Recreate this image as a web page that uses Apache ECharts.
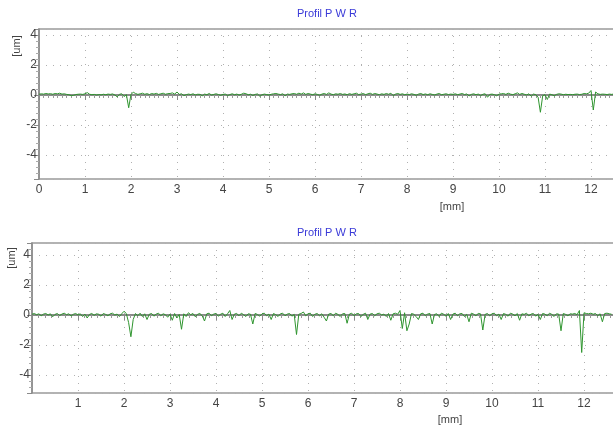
<!DOCTYPE html>
<html>
<head>
<meta charset="utf-8">
<title>Profil PWR</title>
<script src="https://cdn.jsdelivr.net/npm/echarts@6.0.0/dist/echarts.min.js"></script>
<style>
  html, body { margin: 0; padding: 0; background: #fff; }
  #chart { width: 613px; height: 427px; }
</style>
</head>
<body>
<div id="chart"></div>
<script>
// sampling step of the profile along x [mm]
var STEP = 0.05

var titleText = 'Profil P W R'
var xName = '[mm]'
var yName = '[um]'

// top profile, one row per mm (20 samples each)
var profileTop = [
  0.05,0.08,0.06,0.1,0.07,0.09,0.05,0.1,0.08,0.12,0.06,0.08,0.04,0.02,-0.04,-0.02,0.03,0.05,0.06,0.04,
  0.08,0.16,0.05,0.02,0.04,0.0,0.03,0.01,0.05,0.02,0.06,0.04,0.07,0.0,-0.12,0.05,0.08,-0.1,0.02,-0.85,
  0.05,0.18,0.1,0.04,0.08,0.12,0.05,0.09,0.03,0.1,0.06,0.11,0.04,0.08,0.12,0.05,0.09,0.1,0.14,0.06,
  0.2,0.04,0.08,-0.04,0.02,0.06,0.03,0.08,0.0,0.05,0.04,-0.05,0.06,0.02,0.1,0.0,0.04,0.08,0.03,-0.02,
  0.04,0.06,-0.04,0.03,0.08,0.02,0.06,0.0,0.05,0.12,0.08,0.02,0.05,-0.03,0.04,0.07,-0.08,0.02,0.06,0.03,
  0.0,0.05,0.08,0.1,0.06,0.03,0.08,-0.05,0.06,0.04,0.08,0.1,0.05,0.12,0.06,0.14,0.04,0.1,0.06,0.02,
  0.08,0.04,-0.02,0.06,0.1,0.04,0.14,0.06,0.02,0.08,0.05,0.1,0.04,0.07,0.02,0.09,0.04,0.08,0.12,0.03,
  0.06,0.1,0.02,0.08,0.12,0.04,0.1,0.06,0.02,0.08,0.04,0.1,0.05,0.12,-0.04,0.06,0.1,0.04,0.08,0.02,
  0.06,0.03,0.08,0.04,-0.02,0.06,0.1,0.03,0.07,0.02,0.08,0.04,0.0,0.06,0.1,0.02,0.05,0.08,0.03,0.06,
  0.04,0.08,0.02,0.06,0.1,0.03,0.07,-0.06,0.04,0.08,0.02,0.06,-0.04,0.05,0.08,-0.15,0.04,0.06,0.02,-0.05,
  0.06,0.08,0.1,0.04,0.12,0.06,0.02,0.08,0.14,0.04,0.1,0.05,0.0,0.08,-0.08,0.06,0.02,-0.15,-1.15,-0.05,
  0.02,-0.3,0.06,0.02,-0.05,0.04,0.08,0.06,0.02,0.05,0.03,0.04,0.02,0.05,0.06,0.03,0.05,0.1,0.08,0.12,
  0.3,-1.0,0.2,0.08,0.04,0.06,0.05,0.03,0.06,0.04,0.07,0.05,0.06
]

// bottom profile, same sampling
var profileBottom = [
  0.05,0.1,0.02,0.08,-0.05,0.06,0.1,0.0,0.08,-0.12,0.04,0.1,-0.04,0.06,0.12,0.02,0.08,-0.06,0.05,0.1,
  0.0,0.08,-0.1,0.06,-0.2,0.04,0.1,-0.02,0.08,0.05,-0.08,0.1,0.04,-0.05,0.08,0.12,0.0,0.06,-0.1,0.08,
  0.25,0.1,-0.5,-1.45,-0.3,0.1,-0.05,0.12,-0.1,0.08,-0.3,0.05,0.1,-0.08,0.06,0.12,-0.05,0.08,0.02,-0.15,
  0.06,-0.35,0.1,-0.2,0.04,-0.95,0.08,-0.1,0.15,0.02,0.1,-0.12,0.05,0.1,-0.05,-0.4,0.08,0.12,-0.05,0.06,
  0.1,-0.08,0.05,0.12,-0.1,0.08,0.3,-0.3,0.06,0.1,-0.05,0.12,0.02,-0.1,0.08,0.05,-0.6,0.1,0.04,-0.08,
  0.08,0.12,-0.05,0.06,-0.3,0.1,0.02,-0.1,0.08,0.12,-0.05,0.06,0.1,-0.08,0.04,-1.3,0.05,0.1,0.2,-0.05,
  0.08,0.12,-0.1,0.05,0.1,-0.05,0.08,-0.15,-0.4,0.06,0.1,-0.05,0.12,0.04,-0.1,0.08,0.1,-0.55,0.06,0.12,
  -0.05,0.08,0.1,-0.1,0.04,0.12,-0.3,0.06,0.1,-0.05,0.08,0.12,0.0,0.06,-0.1,0.1,-0.35,0.08,0.12,0.05,
  0.3,-0.9,0.15,-1.05,-0.6,0.1,0.05,-0.1,-0.3,0.08,0.12,-0.05,0.06,0.1,-0.6,0.04,0.08,-0.1,0.12,0.05,
  -0.08,0.1,-0.3,0.06,0.12,-0.05,0.08,0.1,-0.1,0.05,-0.45,0.12,0.06,-0.05,0.1,0.08,-1.0,0.04,0.1,-0.05,
  0.08,0.12,-0.05,0.06,-0.3,0.1,0.04,-0.08,0.12,0.06,-0.05,0.1,-0.35,0.08,0.04,0.12,-0.05,0.06,0.1,-0.08,
  0.05,-0.3,0.1,0.06,-0.05,0.12,0.04,-0.1,0.08,0.06,-1.05,0.1,0.04,-0.05,0.08,0.06,0.1,0.02,0.3,-2.5,
  0.15,0.1,0.08,0.12,0.05,0.1,-0.05,0.08,-0.45,0.1,0.12,0.08,0.05
]

// axis ranges
var xRange = [0, 13]
var yRangeTop = [-5.6, 4.4]
var yRangeBottom = [-5.2, 4.8]

// sample index -> [x mm, value um]
function toPairs(vals) {
  return vals.map(function (v, i) { return [+(i * STEP).toFixed(2), v] })
}

var FONT = 'Liberation Sans, Arial, sans-serif'
var dotted = { color: '#b0b0b0', width: 1, type: [1, 6] }

function makeX(gridIndex, showMin, minorSplit) {
  return {
    type: 'value', gridIndex: gridIndex,
    min: xRange[0], max: xRange[1], interval: 1,
    axisLine: { lineStyle: { color: '#8a8a8a', width: 2 } },
    axisTick: { length: 5, lineStyle: { color: '#8a8a8a' } },
    minorTick: { show: true, splitNumber: minorSplit, length: 3, lineStyle: { color: '#999' } },
    axisLabel: { showMinLabel: showMin, fontSize: 12, color: '#444', margin: 5, fontFamily: FONT },
    splitLine: { show: true, lineStyle: dotted }
  }
}

function makeY(gridIndex, range) {
  return {
    type: 'value', gridIndex: gridIndex,
    min: range[0], max: range[1],
    axisLine: { show: true, lineStyle: { color: '#8a8a8a', width: 1.5 } },
    axisTick: { show: true, length: 5, lineStyle: { color: '#8a8a8a' } },
    minorTick: { show: true, splitNumber: 5, length: 3, lineStyle: { color: '#aaa' } },
    axisLabel: {
      fontSize: 12, color: '#444', margin: 2, fontFamily: FONT,
      // only the even values carry a label
      formatter: function (v) { return Math.abs(v % 2) < 1e-9 ? String(v) : '' }
    },
    splitLine: { show: true, lineStyle: dotted }
  }
}

function makeSeries(idx, vals) {
  return {
    type: 'line', xAxisIndex: idx, yAxisIndex: idx,
    data: toPairs(vals),
    showSymbol: false, clip: true,
    lineStyle: { color: '#2f952f', width: 1 }
  }
}

function label(text, x, y, rot) {
  return {
    type: 'text', x: x, y: y, rotation: rot || 0,
    style: { text: text, fill: '#444', font: '11px ' + FONT, textAlign: 'center', textVerticalAlign: 'middle' }
  }
}

var chart = echarts.init(document.getElementById('chart'), null, { renderer: 'canvas' })

var option = {
  animation: false,
  backgroundColor: '#fff',
  title: [
    { text: titleText, left: 292, top: 3, textStyle: { fontSize: 11, fontWeight: 'normal', color: '#3a3ad8', fontFamily: FONT } },
    { text: titleText, left: 292, top: 222, textStyle: { fontSize: 11, fontWeight: 'normal', color: '#3a3ad8', fontFamily: FONT } }
  ],
  // plot width runs past the right edge, like in the screenshot
  grid: [
    { left: 39, top: 29, width: 598, height: 150, show: true, borderColor: '#9a9a9a', borderWidth: 1.5, containLabel: false, outerBoundsMode: 'none' },
    { left: 32, top: 243, width: 598, height: 150, show: true, borderColor: '#9a9a9a', borderWidth: 1.5, containLabel: false, outerBoundsMode: 'none' }
  ],
  xAxis: [makeX(0, true, 10), makeX(1, false, 7)],
  yAxis: [makeY(0, yRangeTop), makeY(1, yRangeBottom)],
  series: [makeSeries(0, profileTop), makeSeries(1, profileBottom)],
  graphic: [
    label(xName, 452, 207),
    label(xName, 450, 420),
    label(yName, 17, 46, Math.PI / 2),
    label(yName, 12, 258, Math.PI / 2)
  ]
}

chart.setOption(option)
</script>
</body>
</html>
